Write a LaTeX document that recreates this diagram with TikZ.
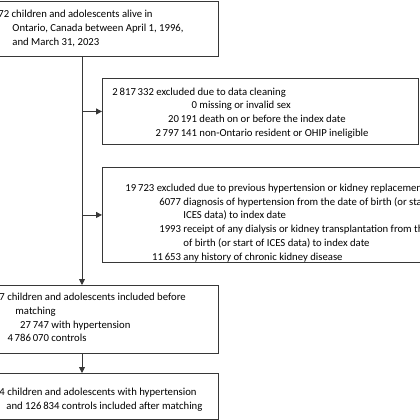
\documentclass[tikz,border=0pt]{standalone}
\usepackage{fontspec}
\setmainfont{Carlito}
\usetikzlibrary{arrows.meta}
\definecolor{framegray}{RGB}{55,55,55}
\tikzset{every picture/.style={line width=0.9pt}}

\begin{document}
\begin{tikzpicture}[
            x=1pt,
            y=1pt,
            yscale=-1,
            box/.style={draw=framegray, line width=0.9pt, inner sep=0pt, anchor=north west},
            txt/.style={anchor=north west, inner sep=0pt, align=left, font=\fontsize{10.7}{13.7}\selectfont},
            flow/.style={draw=framegray, line width=0.9pt, -{Triangle[length=6pt,width=6pt]}}
        ]
            \useasboundingbox (0,0) rectangle (420,420);
            \clip (0,0) rectangle (420,420);

            \node[box, minimum width=418pt, minimum height=55.5pt] (src) at (-200,1) {};
            \node[box, minimum width=316pt, minimum height=66pt] (clean) at (102,78) {};
            \node[box, minimum width=460pt, minimum height=95pt] (prior) at (102,167) {};
            \node[box, minimum width=418pt, minimum height=68pt] (cohort) at (-200,285) {};
            \node[box, minimum width=418pt, minimum height=45.5pt] (matched) at (-200,373) {};

            \node[txt] (srctext) at (-2,10) {72 children and adolescents alive in\\
                \hspace*{14pt}Ontario, Canada between April 1, 1996,\\
                \hspace*{14pt}and March 31, 2023};
            \node[txt] (cleanhead) at (112,88) {2\,817\,332 excluded due to data cleaning};
            \node[txt] (cleanrows) at (199,101) {\llap{0\ }missing or invalid sex\\
                \llap{20\,191\ }death on or before the index date\\
                \llap{2\,797\,141\ }non-Ontario resident or OHIP ineligible};
            \node[txt] (priorhead) at (125,184) {19\,723 excluded due to previous hypertension or kidney replacement therapy};
            \node[txt] (priorrows) at (183,197) {\llap{6077\ }diagnosis of hypertension from the date of birth (or start of\\
                ICES data) to index date\\
                \llap{1993\ }receipt of any dialysis or kidney transplantation from the date\\
                of birth (or start of ICES data) to index date\\
                \llap{11\,653\ }any history of chronic kidney disease};
            \node[txt] (cohorttext) at (-1,293) {7 children and adolescents included before\\
                \hspace*{16pt}matching\\
                \hspace*{52pt}\llap{27\,747\ }with hypertension\\
                \hspace*{52pt}\llap{4\,786\,070\ }controls};
            \node[txt] (matchedtext) at (-1,388) {4 children and adolescents with hypertension\\
                \hspace*{7pt}and 126\,834 controls included after matching};

            \coordinate (spine) at (82,0);
            \draw[flow] (spine |- src.south) -- (spine |- cohort.north);
            \draw[flow] (spine |- clean.west) -- (clean.west);
            \draw[flow] (spine |- prior.west) -- (prior.west);
            \draw[flow] (spine |- cohort.south) -- (spine |- matched.north);
        \end{tikzpicture}
\end{document}
